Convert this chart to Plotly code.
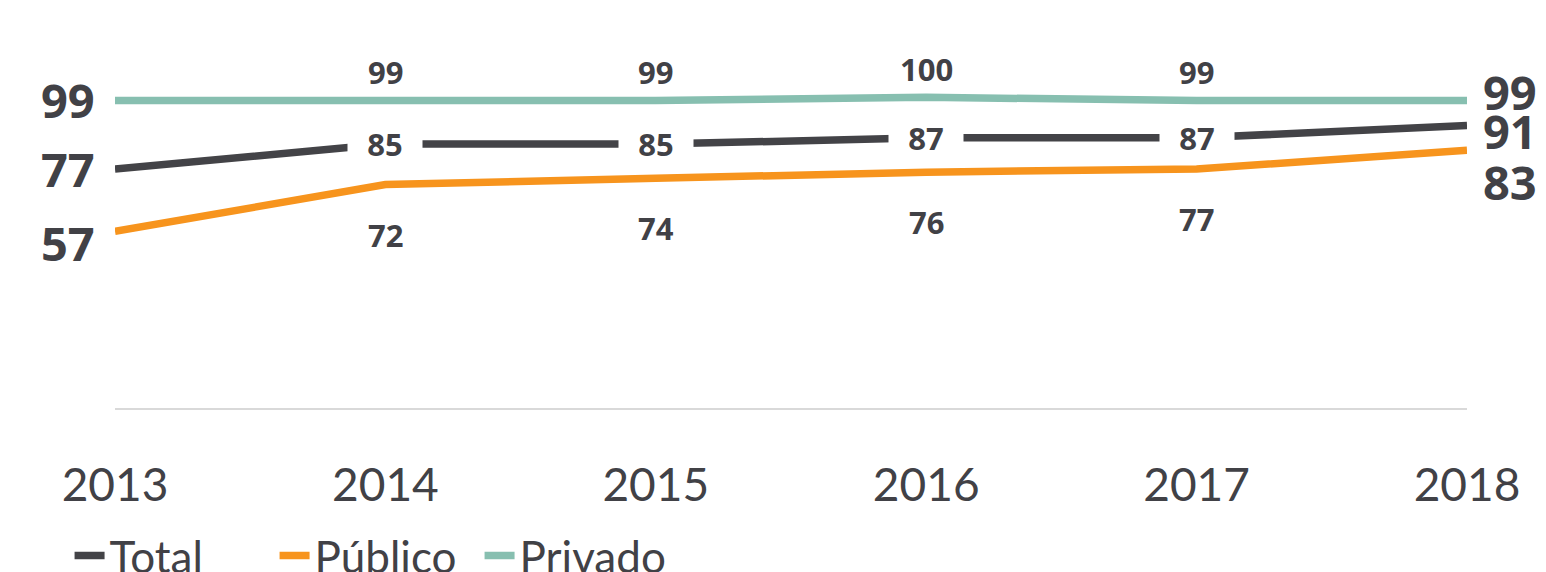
import plotly.graph_objects as go

years = [2013, 2014, 2015, 2016, 2017, 2018]
total = [77, 85, 85, 87, 87, 91]
publico = [57, 72, 74, 76, 77, 83]
privado = [99, 99, 99, 100, 99, 99]
tick_labels = ["2013", "2014", "2015", "2016", "2017", "2018"]

C_TOTAL = "#434347"
C_PUB = "#f7941d"
C_PRIV = "#87bfb0"
TXT = "#414146"
FONT = "Open Sans"

fig = go.Figure()
for name, vals, col in [("Total", total, C_TOTAL), ("Público", publico, C_PUB), ("Privado", privado, C_PRIV)]:
    fig.add_trace(go.Scatter(x=years, y=vals, mode="lines", name=name,
                             line=dict(color=col, width=7.5), cliponaxis=False))

mid = dict(family=FONT, size=31, color=TXT, weight="bold")
ann = []
for i in range(1, len(years) - 1):
    ann.append(dict(x=years[i], y=privado[i], text=str(privado[i]), showarrow=False,
                    yshift=28, font=mid))
    ann.append(dict(x=years[i], y=total[i], text=str(total[i]), showarrow=False,
                    bgcolor="white", width=72, font=mid))
    ann.append(dict(x=years[i], y=publico[i], text=str(publico[i]), showarrow=False,
                    yshift=-50, font=mid))
big = dict(family=FONT, size=47, color=TXT, weight="bold")
ann.append(dict(x=years[0], y=privado[0], text=str(privado[0]), showarrow=False, xshift=-47, font=big))
ann.append(dict(x=years[0], y=total[0], text=str(total[0]), showarrow=False, xshift=-47, font=big))
ann.append(dict(x=years[0], y=publico[0], text=str(publico[0]), showarrow=False, xshift=-47, yshift=-12, font=big))
ann.append(dict(x=years[-1], y=privado[-1], text=str(privado[-1]), showarrow=False, xshift=43, yshift=8, font=big))
ann.append(dict(x=years[-1], y=total[-1], text=str(total[-1]), showarrow=False, xshift=43, yshift=-6, font=big))
ann.append(dict(x=years[-1], y=publico[-1], text=str(publico[-1]), showarrow=False, xshift=43, yshift=-32, font=big))

fig.update_layout(
    width=1546, height=572,
    margin=dict(l=115, r=79, t=35, b=163, autoexpand=False),
    plot_bgcolor="white", paper_bgcolor="white",
    annotations=ann,
    showlegend=True,
    legend=dict(orientation="h", xref="container", yref="container", x=0.045, y=0.09,
                xanchor="left", yanchor="top", font=dict(family="Lato", size=44, color=TXT),
                itemwidth=30, tracegroupgap=0, entrywidth=160, entrywidthmode="pixels"),
    xaxis=dict(range=[2013, 2018], tickvals=years, ticktext=tick_labels, showgrid=False,
               zeroline=False, showline=False, ticks="outside", ticklen=36, automargin=False,
               tickcolor="rgba(0,0,0,0)", tickfont=dict(family="Lato", size=46, color=TXT)),
    yaxis=dict(range=[0, 120], showgrid=False, showticklabels=False, zeroline=True,
               automargin=False, zerolinecolor="#d9d9d9", zerolinewidth=2),
)
fig.write_html("out.html", config={"displayModeBar": False},
               post_script="document.body.style.margin='0';document.body.style.overflow='hidden';")
